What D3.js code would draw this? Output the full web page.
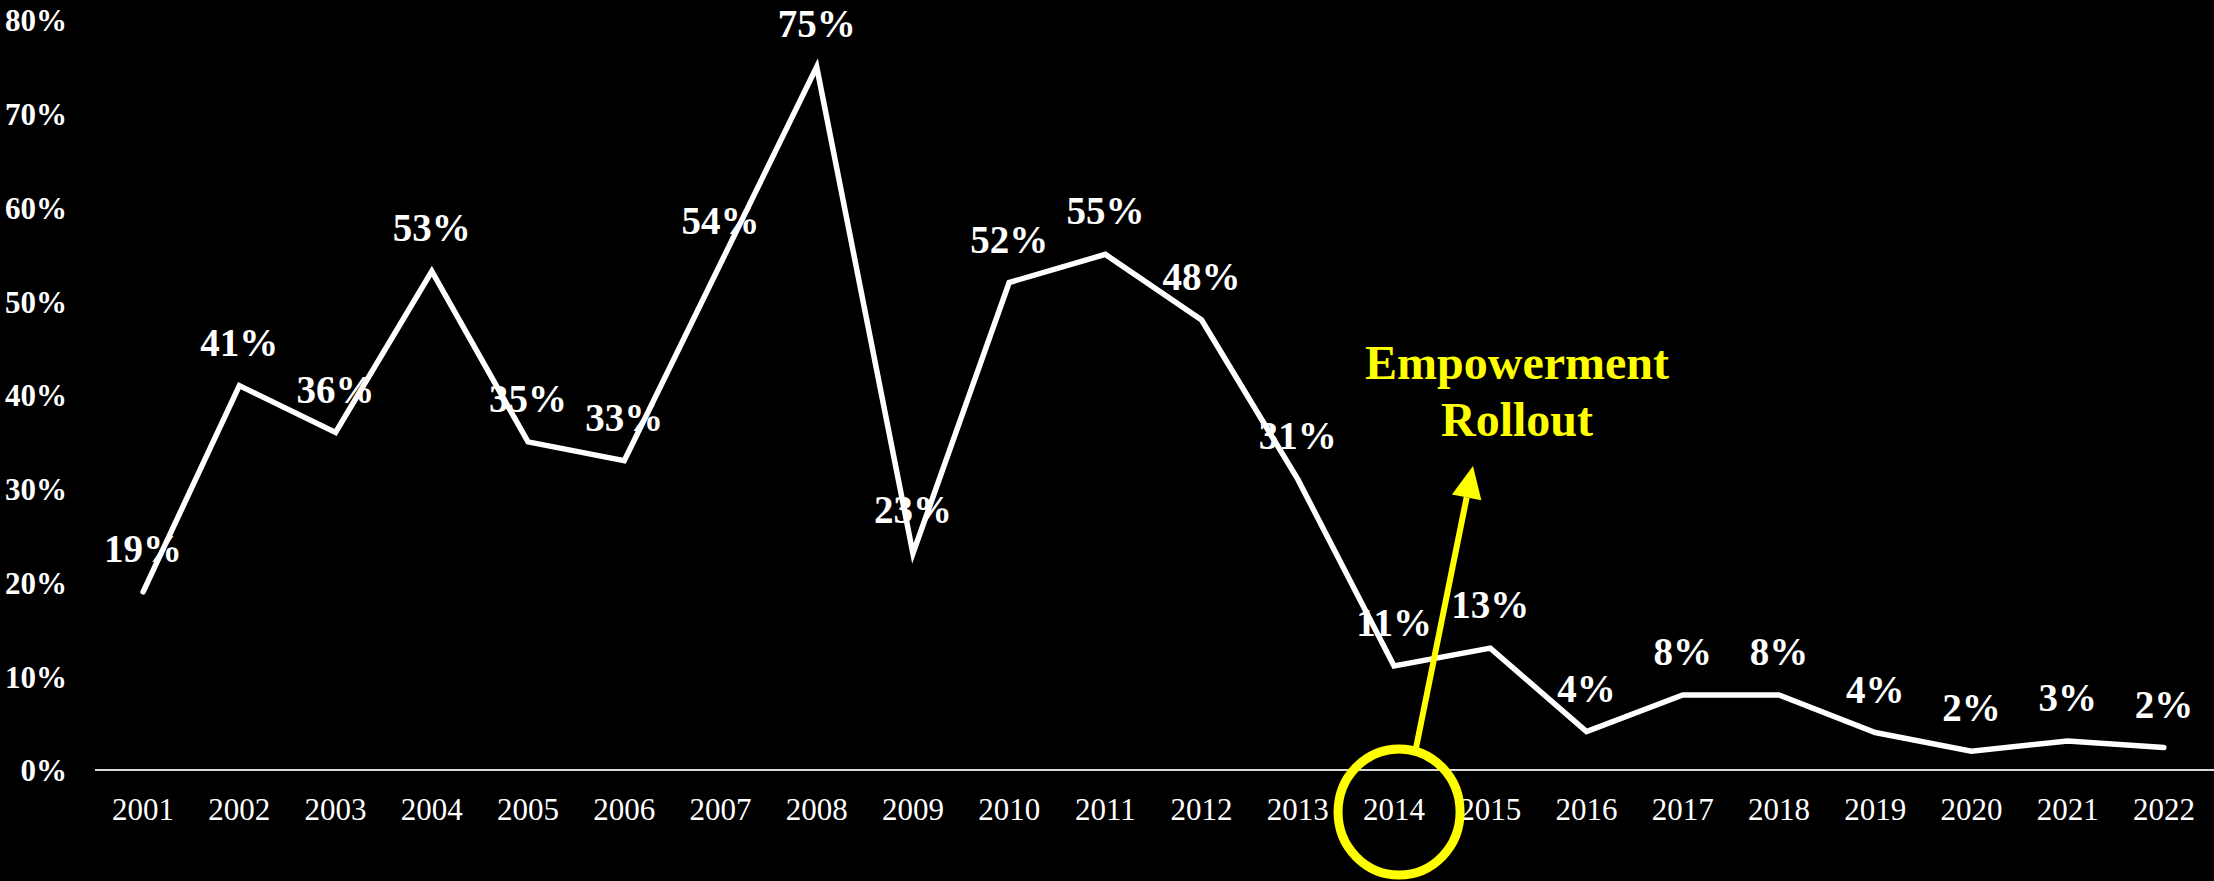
<!DOCTYPE html>
<html>
<head>
<meta charset="utf-8">
<script src="https://cdn.jsdelivr.net/npm/d3@7"></script>
<style>
  html, body { margin: 0; padding: 0; background: #000; }
  svg { display: block; }
</style>
</head>
<body>
<svg id="chart" width="2214" height="881"></svg>
<script>
const years = ["2001","2002","2003","2004","2005","2006","2007","2008","2009","2010","2011","2012","2013","2014","2015","2016","2017","2018","2019","2020","2021","2022"];
const values = [0.19,0.41,0.36,0.532,0.35,0.33,0.54,0.75,0.231,0.52,0.55,0.48,0.31,0.111,0.13,0.041,0.08,0.08,0.04,0.02,0.031,0.024];
const yTicks = [0,0.1,0.2,0.3,0.4,0.5,0.6,0.7,0.8];
const annotationLines = ["Empowerment","Rollout"];
const annotatedYear = "2014";

const W = 2214, H = 881;
const svg = d3.select("#chart");
svg.append("rect").attr("width", W).attr("height", H).attr("fill", "#000");

const x = d3.scaleBand().domain(years).range([95, 2212]);
const cx = d => x(d) + x.bandwidth() / 2;
const y = d3.scaleLinear().domain([0, 0.8]).range([770, 20]);
const pct = d3.format(".0%");
const serif = "'Liberation Serif','Times New Roman',serif";

// baseline axis
svg.append("line")
  .attr("x1", 95).attr("x2", W)
  .attr("y1", y(0)).attr("y2", y(0))
  .attr("stroke", "#d9d9d9").attr("stroke-width", 2);

// y axis labels
const yAxis = d3.axisLeft(y).tickValues(yTicks).tickFormat(pct).tickSize(0).tickPadding(0);
const yg = svg.append("g").attr("transform", "translate(67,0)").call(yAxis);
yg.select(".domain").remove();
yg.selectAll("text")
  .attr("fill", "#fff").attr("font-family", serif)
  .attr("font-size", 31).attr("font-weight", "bold")
  .attr("dy", "0.35em");

// x axis labels
const xAxis = d3.axisBottom(x).tickSize(0).tickPadding(0);
const xg = svg.append("g").attr("transform", "translate(0,798)").call(xAxis);
xg.select(".domain").remove();
xg.selectAll("text")
  .attr("fill", "#fff").attr("font-family", serif)
  .attr("font-size", 31).attr("dy", "0.71em");

// line
const data = years.map((yr, i) => ({ yr, v: values[i] }));
const line = d3.line().x(d => cx(d.yr)).y(d => y(d.v));
svg.append("path")
  .datum(data)
  .attr("d", line)
  .attr("fill", "none")
  .attr("stroke", "#fff")
  .attr("stroke-width", 5.5)
  .attr("stroke-linejoin", "miter")
  .attr("stroke-linecap", "round");

// data labels
svg.append("g").selectAll("text")
  .data(data).join("text")
  .attr("x", d => cx(d.yr))
  .attr("y", d => y(d.v) - 30)
  .attr("text-anchor", "middle")
  .attr("fill", "#fff")
  .attr("font-family", serif)
  .attr("font-size", 39)
  .attr("font-weight", "bold")
  .text(d => pct(d.v));

// annotation circle
const ax = cx(annotatedYear) + 5;
svg.append("ellipse")
  .attr("cx", ax).attr("cy", 812)
  .attr("rx", 61).attr("ry", 63)
  .attr("fill", "none").attr("stroke", "#ffff00").attr("stroke-width", 9);

// arrow
const x0 = 1416, y0 = 748, x1 = 1473, y1 = 466;
const ang = Math.atan2(y1 - y0, x1 - x0);
const headLen = 32, headW = 15;
const bx = x1 - headLen * Math.cos(ang), by = y1 - headLen * Math.sin(ang);
svg.append("line")
  .attr("x1", x0).attr("y1", y0).attr("x2", bx).attr("y2", by)
  .attr("stroke", "#ffff00").attr("stroke-width", 6);
const px = -Math.sin(ang), py = Math.cos(ang);
svg.append("path")
  .attr("d", `M${x1},${y1}L${bx + px * headW},${by + py * headW}L${bx - px * headW},${by - py * headW}Z`)
  .attr("fill", "#ffff00");

// annotation text
svg.append("g").selectAll("text")
  .data(annotationLines).join("text")
  .attr("x", 1517)
  .attr("y", (d, i) => 379 + i * 57)
  .attr("text-anchor", "middle")
  .attr("fill", "#ffff00")
  .attr("font-family", serif)
  .attr("font-size", 48)
  .attr("font-weight", "bold")
  .text(d => d);
</script>
</body>
</html>
